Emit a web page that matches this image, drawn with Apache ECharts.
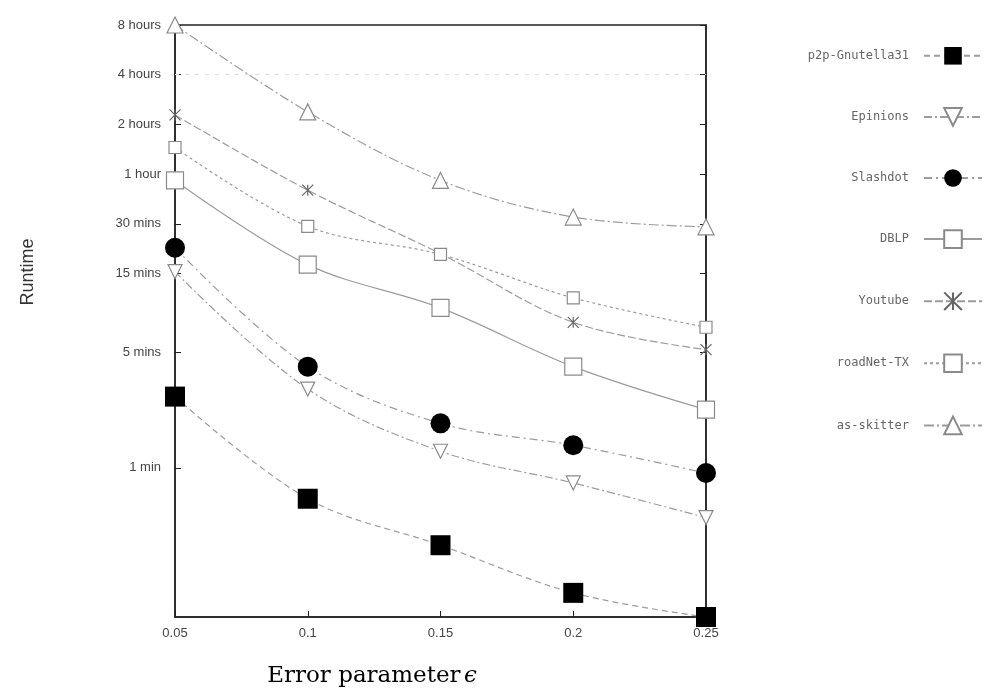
<!DOCTYPE html>
<html lang="en">
<head>
  <meta charset="UTF-8">
  <title>Runtime vs error parameter</title>
  <script src="https://cdn.jsdelivr.net/npm/echarts@6/dist/echarts.min.js"></script>
  <style>
    html, body { margin: 0; padding: 0; height: 100%; background: #fff; }
    #chart { width: 988px; height: 697px; }
  </style>
</head>
<body>
  <div id="chart"></div>
  <script>
    // runtimes in minutes
    const epsilon = [0.05, 0.1, 0.15, 0.2, 0.25];
    const gnutella = [2.7, 0.65, 0.34, 0.175, 0.125];
    const epinions = [15.4, 3.0, 1.26, 0.81, 0.5];
    const slashdot = [21.5, 4.1, 1.86, 1.37, 0.93];
    const dblp = [55, 17, 9.3, 4.1, 2.25];
    const youtube = [137, 48, 19.8, 7.6, 5.2];
    const roadnet = [87, 29, 19.6, 10.7, 7.1];
    const skitter = [480, 143, 55, 33, 28.8];

    const yTickValues = [1, 5, 15, 30, 60, 120, 240, 480];
    const yTickLabels = ['1 min', '5 mins', '15 mins', '30 mins', '1 hour', '2 hours', '4 hours', '8 hours'];

    let chart = echarts.init(document.getElementById('chart'));

    const pairs = vals => epsilon.map((e, i) => [e, vals[i]]);
    const lineGray = '#9c9c9c';
    const markGray = '#8a8a8a';

    function mk(name, vals, symbol, size, item, dash, extra) {
      return Object.assign({
        name: name,
        type: 'line',
        data: pairs(vals),
        smooth: 0.35,
        symbol: symbol,
        symbolSize: size,
        itemStyle: item,
        lineStyle: { color: lineGray, width: 1.2, type: dash },
        z: 3
      }, extra || {});
    }

    const hollow = { color: '#fff', borderColor: markGray, borderWidth: 1.2 };
    const filled = { color: '#000', borderColor: '#000', borderWidth: 0 };

    const series = [
      mk('p2p-Gnutella31', gnutella, 'rect', 20, filled, [6, 4]),
      mk('Epinions', epinions, 'triangle', 14, hollow, [8, 3, 2, 3], { symbolRotate: 180 }),
      mk('Slashdot', slashdot, 'circle', 20, filled, [8, 4, 2, 4]),
      mk('DBLP', dblp, 'rect', 17, hollow, 'solid'),
      mk('Youtube', youtube, 'path://M0,0L10,10M10,0L0,10M5,0L5,10', 11,
        { color: 'transparent', borderColor: '#666', borderWidth: 1.2 }, [8, 3]),
      mk('roadNet-TX', roadnet, 'rect', 12, hollow, [3, 3]),
      mk('as-skitter', skitter, 'triangle', 16, hollow, [10, 3, 2, 3], {
        markLine: {
          silent: true,
          symbol: 'none',
          label: { show: false },
          lineStyle: { color: '#dedede', type: [4, 6], width: 1.2 },
          data: [{ yAxis: 240 }]
        }
      })
    ];

    const yBase = {
      type: 'log',
      logBase: 2,
      min: 0.125,
      max: 480,
      splitLine: { show: false },
      axisLine: { show: true, lineStyle: { color: '#222', width: 1.5 } },
      axisTick: { show: true, inside: true, length: 6, customValues: yTickValues, lineStyle: { color: '#222' } },
      minorTick: { show: false }
    };

    const option = {
      animation: false,
      grid: {
        left: 175, right: 282, top: 25, bottom: 80,
        show: true, borderColor: '#222', borderWidth: 1.5
      },
      xAxis: {
        type: 'value',
        min: 0.05,
        max: 0.25,
        interval: 0.05,
        splitLine: { show: false },
        axisLine: { lineStyle: { color: '#222', width: 1.5 } },
        axisTick: { inside: true, length: 6, lineStyle: { color: '#222' } },
        axisLabel: {
          color: '#444', fontSize: 13, fontFamily: 'Liberation Sans', margin: 10,
          formatter: v => String(+v.toFixed(2))
        }
      },
      yAxis: [
        Object.assign({}, yBase, {
          position: 'left',
          axisLabel: {
            customValues: yTickValues,
            color: '#444', fontSize: 13, fontFamily: 'Liberation Sans', margin: 14,
            formatter: v => yTickLabels[yTickValues.indexOf(Math.round(v))] || ''
          }
        }),
        Object.assign({}, yBase, {
          position: 'right',
          axisLabel: { show: false }
        })
      ],
      legend: {
        orient: 'vertical',
        right: 0,
        top: 42,
        align: 'right',
        itemWidth: 58,
        itemHeight: 22,
        itemGap: 42.5,
        textStyle: { fontFamily: 'DejaVu Sans Mono', fontSize: 12, color: '#666', padding: [0, 10, 0, 0] },
        data: series.map(s => s.name)
      },
      graphic: [
        {
          type: 'text',
          x: 28, y: 272,
          rotation: Math.PI / 2,
          style: {
            text: 'Runtime',
            font: '18px "Liberation Sans"',
            fill: '#333',
            align: 'center',
            verticalAlign: 'middle'
          }
        },
        {
          type: 'text',
          x: 372, y: 676,
          style: {
            text: '{a|Error parameter} {b|ϵ}',
            align: 'center',
            verticalAlign: 'middle',
            rich: {
              a: { fontFamily: 'DejaVu Serif', fontSize: 23, color: '#666' },
              b: { fontFamily: 'DejaVu Serif', fontStyle: 'italic', fontSize: 23, color: '#666' }
            }
          }
        }
      ],
      series: series
    };

    chart.setOption(option);
  </script>
</body>
</html>
